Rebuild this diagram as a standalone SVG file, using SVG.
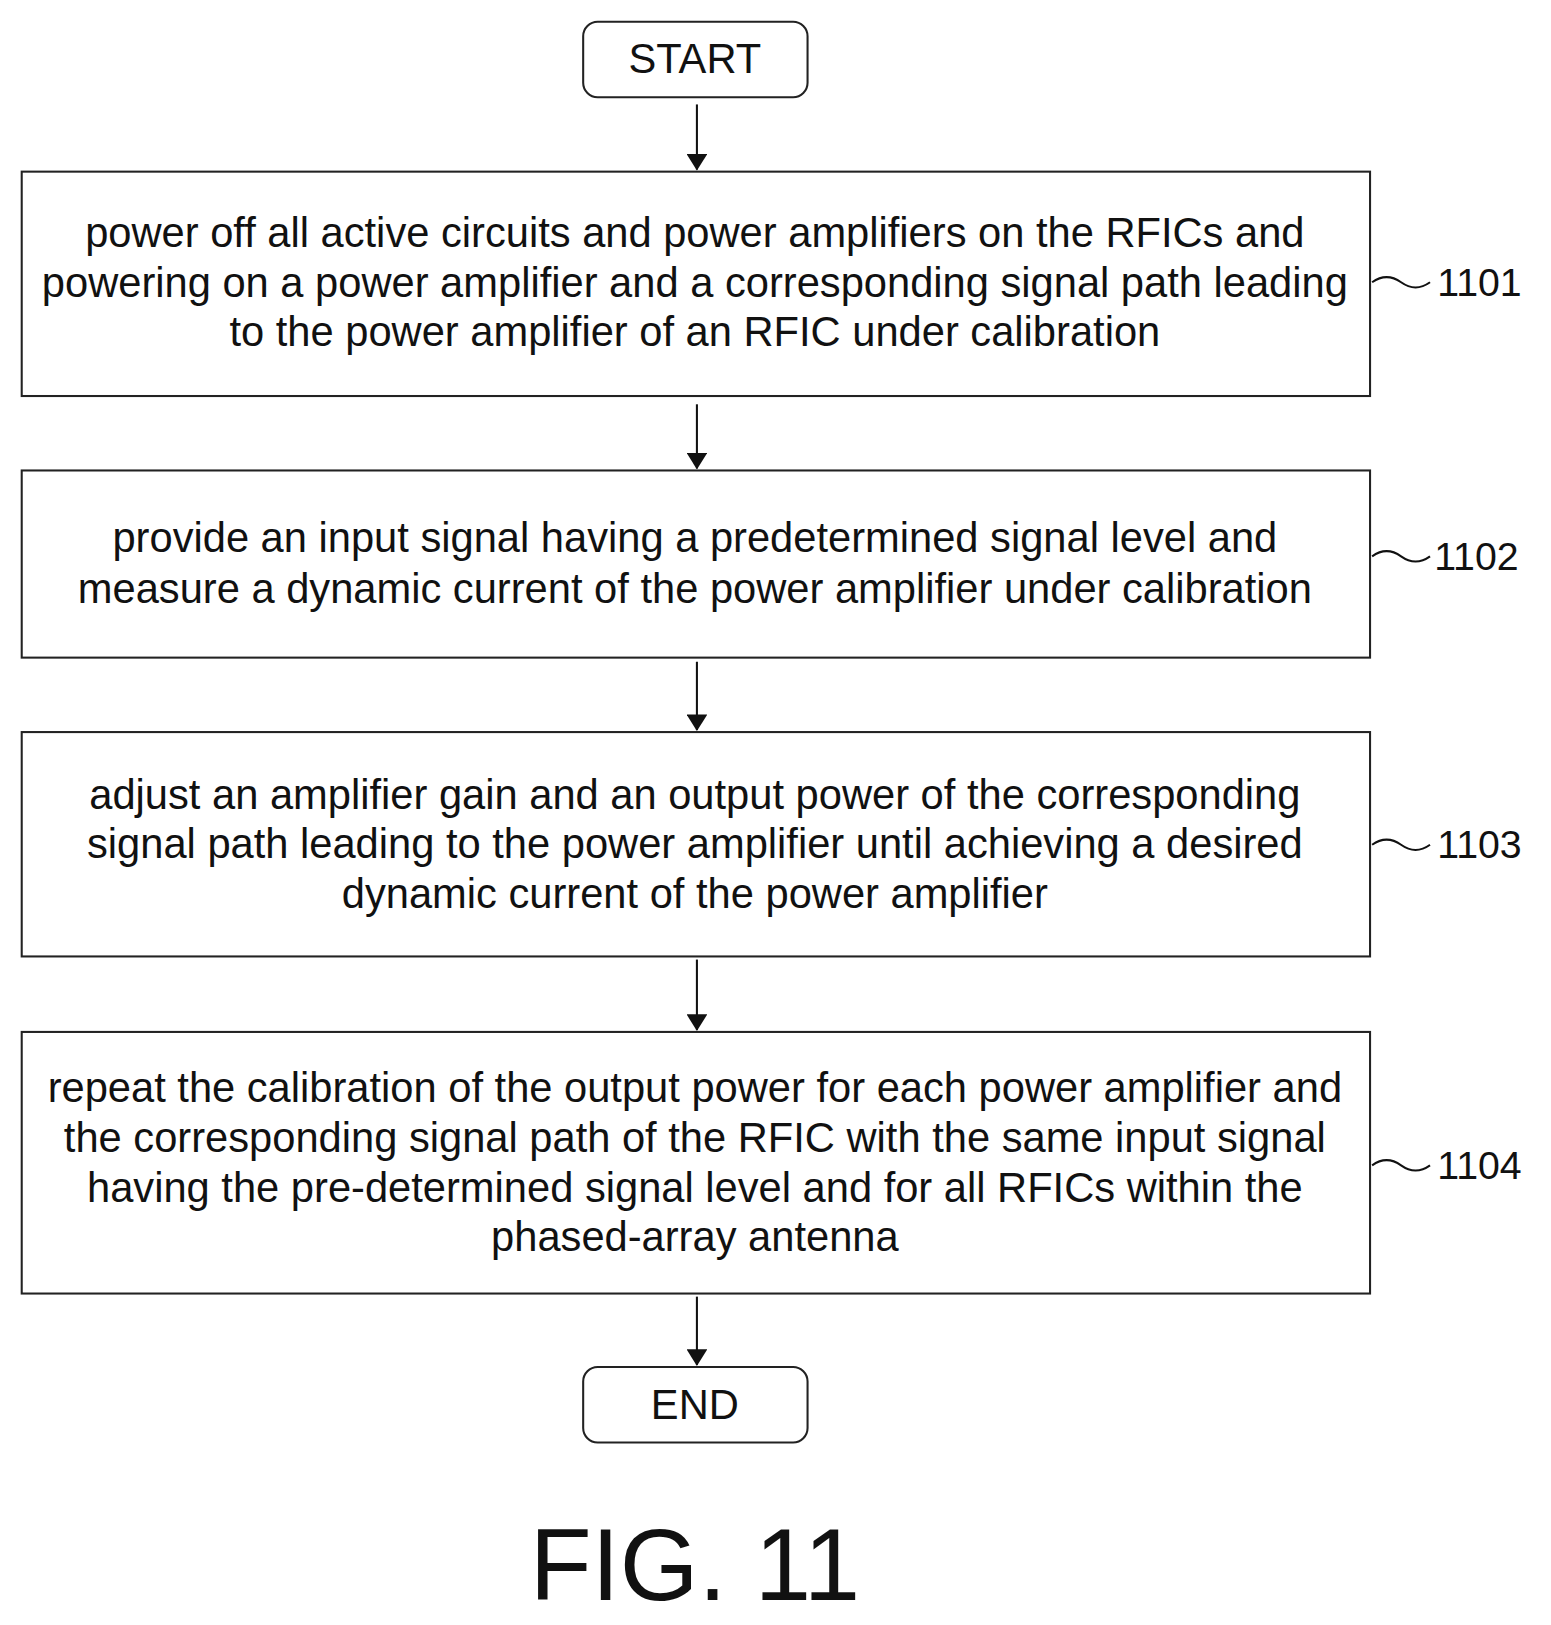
<svg xmlns="http://www.w3.org/2000/svg" width="1551" height="1625" viewBox="0 0 1551 1625">
<style>
.b{fill:#fff;stroke:#222;stroke-width:2}
.t{font-family:"Liberation Sans",Arial,sans-serif;font-size:40.3px;fill:#111;text-anchor:middle}
.l{font-family:"Liberation Sans",Arial,sans-serif;font-size:38px;fill:#111}
.c{stroke:#111;stroke-width:2;fill:none}
</style>
<defs><marker id="a" markerWidth="16" markerHeight="20" refX="15" refY="10" orient="auto" markerUnits="userSpaceOnUse"><path d="M0,0L16,10L0,20z" fill="#111"/></marker></defs>
<rect width="1551" height="1625" fill="#fff"/>
<g transform="scale(1.034)">
<g id="start"><rect class="b" x="564" y="21" width="217" height="73" rx="14"/><text class="t" x="672" y="71">START</text></g>
<g id="n1101"><rect class="b" x="21" y="166" width="1304" height="217"/>
<text class="t" x="672" y="239">power off all active circuits and power amplifiers on the RFICs and</text>
<text class="t" x="672" y="287">powering on a power amplifier and a corresponding signal path leading</text>
<text class="t" x="672" y="335">to the power amplifier of an RFIC under calibration</text>
<path class="c" d="M1327,273 q14,-10 28,0 t28,0"/><text class="l" x="1390" y="286">1101</text></g>
<g id="n1102"><rect class="b" x="21" y="455" width="1304" height="181"/>
<text class="t" x="672" y="534">provide an input signal having a predetermined signal level and</text>
<text class="t" x="672" y="583">measure a dynamic current of the power amplifier under calibration</text>
<path class="c" d="M1327,538 q14,-10 28,0 t28,0"/><text class="l" x="1387" y="551">1102</text></g>
<g id="n1103"><rect class="b" x="21" y="708" width="1304" height="217"/>
<text class="t" x="672" y="782">adjust an amplifier gain and an output power of the corresponding</text>
<text class="t" x="672" y="830">signal path leading to the power amplifier until achieving a desired</text>
<text class="t" x="672" y="878">dynamic current of the power amplifier</text>
<path class="c" d="M1327,817 q14,-10 28,0 t28,0"/><text class="l" x="1390" y="830">1103</text></g>
<g id="n1104"><rect class="b" x="21" y="998" width="1304" height="253"/>
<text class="t" x="672" y="1066">repeat the calibration of the output power for each power amplifier and</text>
<text class="t" x="672" y="1114">the corresponding signal path of the RFIC with the same input signal</text>
<text class="t" x="672" y="1162">having the pre-determined signal level and for all RFICs within the</text>
<text class="t" x="672" y="1210">phased-array antenna</text>
<path class="c" d="M1327,1127 q14,-10 28,0 t28,0"/><text class="l" x="1390" y="1140">1104</text></g>
<g id="end"><rect class="b" x="564" y="1322" width="217" height="73" rx="14"/><text class="t" x="672" y="1372">END</text></g>
<g id="connectors">
<line class="c" x1="674" y1="101" x2="674" y2="164" marker-end="url(#a)"/>
<line class="c" x1="674" y1="391" x2="674" y2="453" marker-end="url(#a)"/>
<line class="c" x1="674" y1="640" x2="674" y2="706" marker-end="url(#a)"/>
<line class="c" x1="674" y1="928" x2="674" y2="996" marker-end="url(#a)"/>
<line class="c" x1="674" y1="1254" x2="674" y2="1320" marker-end="url(#a)"/>
</g>
<text class="t" x="672" y="1547" style="font-size:98px">FIG. 11</text>
</g>
</svg>
